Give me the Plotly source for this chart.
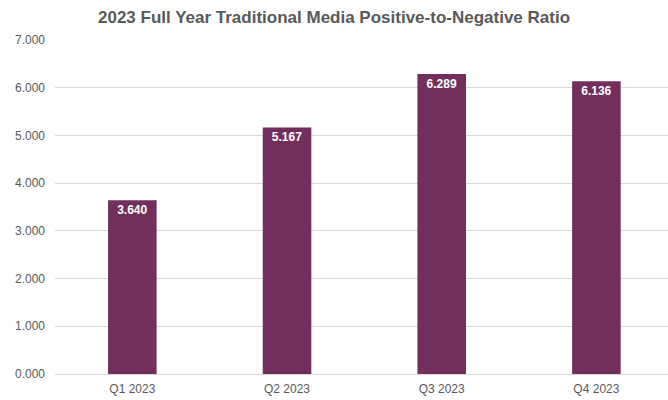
import plotly.graph_objects as go

quarters = ["Q1 2023", "Q2 2023", "Q3 2023", "Q4 2023"]
ratios = [3.640, 5.167, 6.289, 6.136]
y_ticks = [0, 1, 2, 3, 4, 5, 6, 7]

bar_color = "#722F5C"
text_color = "#595959"

fig = go.Figure(
    go.Bar(
        x=quarters,
        y=ratios,
        marker=dict(color=bar_color, line=dict(width=0)),
        text=[f"{v:.3f}" for v in ratios],
        textposition="inside",
        insidetextanchor="end",
        textangle=0,
        textfont=dict(family="Liberation Sans, Arial", size=12, color="white", weight="bold"),
        cliponaxis=False,
    )
)

fig.update_layout(
    width=668,
    height=400,
    margin=dict(l=55, r=0, t=40, b=26),
    paper_bgcolor="white",
    plot_bgcolor="white",
    bargap=0.686,
    showlegend=False,
    title=dict(
        text="<b>2023 Full Year Traditional Media Positive-to-Negative Ratio</b>",
        x=0.5,
        xref="container",
        xanchor="center",
        y=0.957,
        yanchor="middle",
        font=dict(family="Liberation Sans, Arial", size=17, color=text_color),
    ),
    font=dict(family="Liberation Sans, Arial", size=12, color=text_color),
)

fig.update_xaxes(
    range=[-0.5, 3.463],
    showgrid=False,
    showline=False,
    ticks="",
    ticklabelstandoff=6,
    tickfont=dict(size=12, color=text_color),
)
fig.update_yaxes(
    range=[0, 7],
    tickvals=y_ticks,
    ticktext=[f"{v:.3f}" for v in y_ticks],
    showgrid=True,
    gridcolor="#D9D9D9",
    gridwidth=1,
    zeroline=True,
    zerolinecolor="#D9D9D9",
    zerolinewidth=1,
    showline=False,
    ticks="",
    ticklabelstandoff=9,
    tickfont=dict(size=12, color=text_color),
)

fig.write_html("out.html")
